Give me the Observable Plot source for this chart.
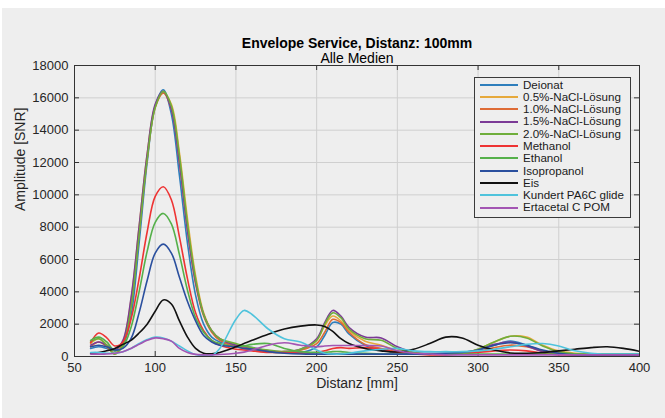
<!DOCTYPE html>
<html>
<head>
<meta charset="utf-8">
<script src="https://cdn.jsdelivr.net/npm/d3@7"></script>
<script src="https://cdn.jsdelivr.net/npm/@observablehq/plot@0.6"></script>
<style>
  html, body { margin: 0; padding: 0; background: #ffffff; }
  body { width: 665px; height: 418px; position: relative; overflow: hidden; font-family: "Liberation Sans", Arial, Helvetica, sans-serif; }
  #chart { position: absolute; left: 2px; top: 8px; width: 663px; height: 410px; background: #eeeeee; }
  #legend { position: absolute; left: 474px; top: 77px; width: 155px; height: 138px; border: 1px solid #3a3a3a; background: #eeeeee; box-sizing: content-box; padding-top: 0.5px; }
  .row { display: flex; align-items: center; height: 12.3px; line-height: 12.3px; font-size: 11.6px; color: #1a1a1a; white-space: nowrap; overflow: visible; }
  .sw { width: 38px; height: 0; border-top: 2px solid; margin-left: 5px; margin-right: 5px; flex: none; }
</style>
</head>
<body>
<div id="chart"></div>
<div id="legend"></div>
<script>
// x positions (mm)
const distanz = [60,65,70,75,80,85,90,95,100,105,110,115,120,125,130,135,140,150,155,160,170,180,190,200,205,210,215,220,230,240,250,260,270,280,290,300,310,320,330,340,350,360,370,380,390,400];

const deionat   = [500,600,500,350,700,2500,7000,12000,15500,16500,15000,11200,7000,3800,2000,1200,900,700,650,550,350,250,250,600,1300,2100,2000,1400,700,400,250,200,200,200,250,400,700,950,700,350,200,150,150,150,150,150];
const nacl05    = [800,1100,700,200,900,3500,8000,12500,15500,16300,15600,12600,8500,5000,2700,1600,1100,700,550,450,300,250,400,1000,1900,2500,2200,1600,950,700,350,200,150,150,200,450,900,1250,1200,700,350,200,150,100,100,100];
const nacl10    = [600,900,600,150,800,3200,7600,12200,15400,16300,15300,12000,7800,4500,2500,1500,1000,600,500,450,300,300,400,800,1500,2300,2100,1500,750,500,300,200,150,150,200,300,550,700,600,350,200,150,100,100,100,100];
const nacl15    = [700,900,700,400,1000,3600,8000,12500,15600,16400,15300,12000,7800,4600,2600,1600,1100,700,600,500,350,300,450,1100,2100,2850,2500,1800,1200,1150,600,250,150,150,200,400,750,900,650,300,150,100,100,100,100,100];
const nacl20    = [900,1100,700,150,700,3000,7500,12200,15400,16400,15500,12400,8200,4800,2600,1600,1100,800,650,550,400,300,450,1000,2000,2700,2400,1700,1100,1000,500,250,150,150,200,450,900,1250,1150,650,300,150,100,100,100,100];
const methanol  = [850,1450,1150,650,900,2300,4800,7700,9900,10500,9700,7400,4800,2700,1600,1000,700,450,400,350,250,250,200,250,350,500,550,500,550,450,250,150,100,100,150,250,350,400,350,200,100,100,100,100,100,100];
const ethanol   = [1000,1200,900,350,600,1800,4000,6500,8300,8850,8200,6300,4100,2400,1500,1000,800,600,650,750,800,500,300,250,250,300,300,250,200,150,150,150,150,150,150,150,150,150,150,150,150,150,150,150,150,150];
const isopropanol = [600,700,600,400,500,1100,2700,4700,6400,6950,6400,4900,3400,2200,1300,900,700,600,500,450,300,200,150,150,150,150,150,150,150,150,150,150,150,200,250,400,700,850,700,400,200,100,100,100,100,100];
const eis       = [200,250,350,500,750,1000,1450,2000,2800,3500,3250,2200,1200,500,200,170,250,600,800,1000,1380,1700,1880,1950,1850,1550,1100,800,500,350,280,450,800,1200,1150,700,400,220,200,250,350,450,550,600,500,320];
const kundert   = [250,250,200,200,300,500,800,1050,1200,1150,950,650,350,120,50,60,500,2300,2850,2600,1700,1100,900,400,200,150,150,200,350,450,500,350,300,300,300,350,450,600,750,800,650,350,200,150,150,150];
const ertacetal = [150,150,150,200,300,500,750,1000,1150,1100,950,500,250,130,100,100,120,200,270,400,700,850,700,600,650,680,680,680,680,650,350,200,150,100,100,100,100,100,100,100,100,100,100,100,100,100];

const seriesNames = ["Deionat","0.5%-NaCl-Lösung","1.0%-NaCl-Lösung","1.5%-NaCl-Lösung","2.0%-NaCl-Lösung","Methanol","Ethanol","Isopropanol","Eis","Kundert PA6C glide","Ertacetal C POM"];
const seriesValues = [deionat, nacl05, nacl10, nacl15, nacl20, methanol, ethanol, isopropanol, eis, kundert, ertacetal];
const seriesColors = ["#2e7ebc","#e6a93b","#de6b35","#7b3a96","#6fae3b","#ee3333","#55b04a","#2a4f9e","#111111","#4fc3dc","#a355b3"];

const xTicks = [50,100,150,200,250,300,350,400];
const yTicks = [0,2000,4000,6000,8000,10000,12000,14000,16000,18000];

const titleText = "Envelope Service, Distanz: 100mm";
const subtitleText = "Alle Medien";
const xLabel = "Distanz [mm]";
const yLabel = "Amplitude [SNR]";

const rows = [];
seriesValues.forEach((vals, i) => {
  vals.forEach((v, j) => rows.push({name: seriesNames[i], x: distanz[j], y: v}));
});

const W = 663, H = 410;
const mL = 72, mR = 26, mT = 57, mB = 62;
const frameW = W - mL - mR, frameH = H - mT - mB;
const tk = 5;

const chart = Plot.plot({
  width: W, height: H,
  marginLeft: mL, marginRight: mR, marginTop: mT, marginBottom: mB,
  style: {background: "transparent", fontFamily: "Liberation Sans, Arial, sans-serif", fontSize: "13px", color: "#262626"},
  x: {domain: [50, 400], ticks: xTicks},
  y: {domain: [0, 18000], ticks: yTicks},
  color: {domain: seriesNames, range: seriesColors},
  marks: [
    Plot.gridX(xTicks, {stroke: "#cfcfcf", strokeOpacity: 1, strokeWidth: 1}),
    Plot.gridY(yTicks, {stroke: "#cfcfcf", strokeOpacity: 1, strokeWidth: 1}),
    Plot.ruleX(xTicks, {x: d => d, insetTop: frameH - tk, stroke: "#333"}),
    Plot.ruleX(xTicks, {x: d => d, insetBottom: frameH - tk, stroke: "#333"}),
    Plot.ruleY(yTicks, {y: d => d, insetRight: frameW - tk, stroke: "#333"}),
    Plot.ruleY(yTicks, {y: d => d, insetLeft: frameW - tk, stroke: "#333"}),
    Plot.axisX(xTicks, {tickSize: 0, tickPadding: 6, label: null, fontSize: 13, fill: "#262626"}),
    Plot.axisY(yTicks, {tickSize: 0, tickPadding: 6, label: null, tickFormat: d3.format("d"), fontSize: 13, fill: "#262626"}),
    Plot.line(rows, {x: "x", y: "y", z: "name", stroke: "name", strokeWidth: 1.6, curve: "catmull-rom", clip: true}),
    Plot.frame({stroke: "#333", strokeWidth: 1}),
    Plot.text([titleText], {frameAnchor: "top", lineAnchor: "middle", dy: -22, fontWeight: "bold", fontSize: 14, fill: "#000"}),
    Plot.text([subtitleText], {frameAnchor: "top", lineAnchor: "middle", dy: -7, fontSize: 14, fill: "#000"}),
    Plot.text([xLabel], {frameAnchor: "bottom", lineAnchor: "middle", dy: 27, fontSize: 14, fill: "#262626"}),
    Plot.text([yLabel], {frameAnchor: "left", lineAnchor: "middle", dx: -54, rotate: -90, fontSize: 14, fill: "#262626"})
  ]
});
document.getElementById("chart").appendChild(chart);

const legend = document.getElementById("legend");
seriesNames.forEach((n, i) => {
  const row = document.createElement("div");
  row.className = "row";
  const sw = document.createElement("span");
  sw.className = "sw";
  sw.style.borderTopColor = seriesColors[i];
  const t = document.createElement("span");
  t.textContent = n;
  row.appendChild(sw);
  row.appendChild(t);
  legend.appendChild(row);
});
</script>
</body>
</html>
